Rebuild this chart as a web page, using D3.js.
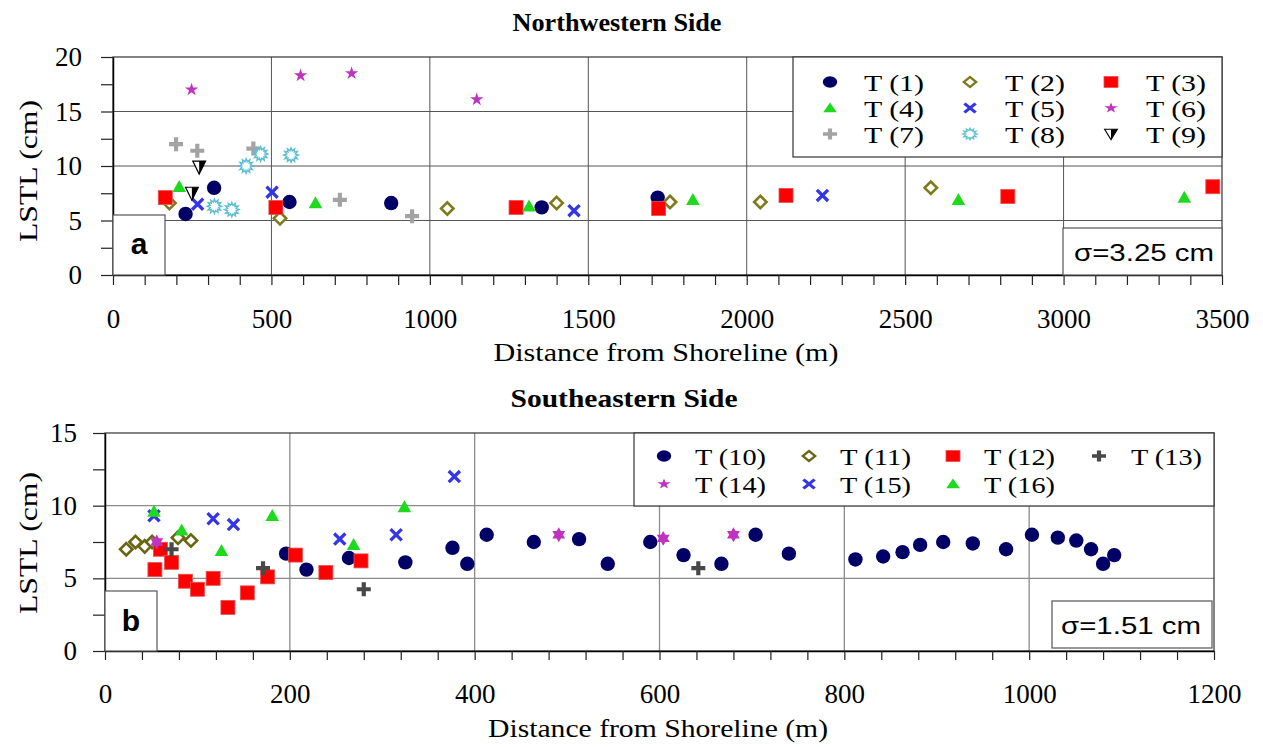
<!DOCTYPE html>
<html>
<head>
<meta charset="utf-8">
<script src="https://cdn.jsdelivr.net/npm/d3@7"></script>
<style>
  body { margin: 0; background: #fff; }
  svg { display: block; }
</style>
</head>
<body>
<svg id="chart" width="1263" height="747"></svg>
<script>
// ---------- Northwestern side: [distance from shoreline (m), LSTL (cm)] ----------
const t1 = [[229,5.6],[319,8.0],[557,6.7],[878,6.6],[1353,6.2],[1719,7.1]];
const t2 = [[178,6.6],[527,5.2],[1055,6.1],[1400,6.6],[1758,6.7],[2043,6.7],[2581,8.0]];
const t3 = [[165,7.1],[514,6.2],[1272,6.2],[1722,6.1],[2124,7.3],[2824,7.2],[3471,8.1]];
const t4 = [[209,8.1],[639,6.6],[1313,6.3],[1830,6.9],[2668,6.9],[3381,7.1]];
const t5 = [[267,6.5],[502,7.6],[1455,5.9],[2239,7.3]];
const t6 = [[248,17.0],[592,18.3],[753,18.5],[1148,16.1]];
const t7 = [[199,12.0],[266,11.4],[443,11.6],[716,6.9],[944,5.4]];
const t8 = [[320,6.3],[375,6.0],[420,10.0],[466,11.1],[562,11.0]];
const t9 = [[249,7.5],[272,9.9]];

// ---------- Southeastern side ----------
const t10 = [[196,6.7],[218,5.6],[264,6.4],[325,6.1],[376,7.1],[392,6.0],[413,8.0],[464,7.5],
             [513,7.7],[544,6.0],[590,7.5],[626,6.6],[667,6.0],[704,8.0],[740,6.7],[812,6.3],
             [842,6.5],[863,6.8],[882,7.3],[907,7.5],[939,7.4],[975,7.0],[1003,8.0],[1031,7.8],
             [1051,7.6],[1067,7.0],[1080,6.0],[1092,6.6]];
const t11 = [[23,7.0],[33,7.5],[43,7.2],[51,7.5],[79,7.8],[93,7.6]];
const t12 = [[54,5.6],[60,7.0],[72,6.1],[87,4.8],[100,4.25],[117,5.0],[133,3.0],[154,4.0],
             [176,5.1],[206,6.6],[239,5.4],[277,6.2]];
const t13 = [[72,7.0],[171,5.7],[280,4.25],[642,5.7]];
const t14 = [[56,7.5],[491,8.0],[604,7.75],[680,8.0]];
const t15 = [[53,9.3],[117,9.1],[139,8.7],[254,7.7],[315,8.0],[378,12.0]];
const t16 = [[53,9.6],[83,8.3],[126,6.9],[181,9.3],[269,7.3],[324,9.9]];

// ---------- Axis ticks ----------
const nwXTickLabels = [0,500,1000,1500,2000,2500,3000,3500];
const nwYTickLabels = [0,5,10,15,20];
const seXTickLabels = [0,200,400,600,800,1000,1200];
const seYTickLabels = [0,5,10,15];

const nwSigma = "σ=3.25 cm";
const seSigma = "σ=1.51 cm";

// ---------- Series styling ----------
const nwSeries = [
  { name: "T (1)", data: t1, mark: "circle",   color: "#000066" },
  { name: "T (2)", data: t2, mark: "diamond",  color: "#7d7a1c" },
  { name: "T (3)", data: t3, mark: "square",   color: "#ff0000" },
  { name: "T (4)", data: t4, mark: "triangle", color: "#1fd91f" },
  { name: "T (5)", data: t5, mark: "x",        color: "#3535e8" },
  { name: "T (6)", data: t6, mark: "star5",    color: "#c033c0" },
  { name: "T (7)", data: t7, mark: "plus",     color: "#a3a3a3" },
  { name: "T (8)", data: t8, mark: "sun",      color: "#5cbfd0" },
  { name: "T (9)", data: t9, mark: "halftri",  color: "#000000" }
];
const seSeries = [
  { name: "T (10)", data: t10, mark: "circle",   color: "#000066" },
  { name: "T (11)", data: t11, mark: "diamond",  color: "#6a6512" },
  { name: "T (12)", data: t12, mark: "square",   color: "#ff0000" },
  { name: "T (13)", data: t13, mark: "plus",     color: "#484848" },
  { name: "T (14)", data: t14, mark: "star6",    color: "#c033c0", legendMark: "star5" },
  { name: "T (15)", data: t15, mark: "x",        color: "#3535e8" },
  { name: "T (16)", data: t16, mark: "triangle", color: "#1fd91f" }
];

const SERIF = "'Liberation Serif', 'Times New Roman', Times, serif";
const SANS = "'Liberation Sans', Arial, sans-serif";

const svg = d3.select("#chart");

// ---------- Marker drawing ----------
function drawMarker(g, mark, color, x, y, sx = 1, sy = 1) {
  const m = g.append("g").attr("transform", `translate(${x},${y}) scale(${sx},${sy})`);
  switch (mark) {
    case "circle":
      m.append("circle").attr("r", 7.2).attr("fill", color);
      break;
    case "diamond":
      m.append("path").attr("d", "M0,-6.2L6.2,0L0,6.2L-6.2,0Z")
        .attr("fill", "#fff").attr("stroke", color).attr("stroke-width", 2.6);
      break;
    case "square":
      m.append("rect").attr("x", -7).attr("y", -7).attr("width", 14).attr("height", 14)
        .attr("fill", color).attr("stroke", "#e85050").attr("stroke-width", 0.8);
      break;
    case "triangle":
      m.append("path").attr("d", "M0,-6.8L6.8,5.2L-6.8,5.2Z").attr("fill", color);
      break;
    case "x":
      m.append("path").attr("d", "M-5.6,-5.6L5.6,5.6M-5.6,5.6L5.6,-5.6")
        .attr("stroke", color).attr("stroke-width", 3.3).attr("fill", "none");
      break;
    case "star5":
      m.append("path").attr("d", d3.symbol(d3.symbolStar, 7 * 7 / 0.8908130915)())
        .attr("fill", color);
      break;
    case "star6":
      // two triangles wound the same way so the overlap stays filled
      m.append("path").attr("d", "M0,-7.4L6.4,3.7L-6.4,3.7Z M0,7.4L-6.4,-3.7L6.4,-3.7Z")
        .attr("fill", color).attr("fill-rule", "nonzero");
      break;
    case "plus":
      m.append("path").attr("d", "M-7,0H7M0,-7V7")
        .attr("stroke", color).attr("stroke-width", 4.2).attr("fill", "none");
      break;
    case "sun": {
      const pts = d3.range(24).map(i => {
        const a = i * Math.PI / 12 - Math.PI / 2;
        const r = i % 2 === 0 ? 7.2 : 4.4;
        return [r * Math.cos(a), r * Math.sin(a)];
      });
      m.append("path").attr("d", "M" + pts.join("L") + "Z")
        .attr("fill", "#fff").attr("stroke", color).attr("stroke-width", 1.4);
      break;
    }
    case "halftri":
      m.append("path").attr("d", "M-6.4,-6L6.4,-6L0,7Z")
        .attr("fill", "#fff").attr("stroke", color).attr("stroke-width", 1.2);
      m.append("path").attr("d", "M0,-6L6.4,-6L0,7Z").attr("fill", color);
      break;
  }
}

// ---------- Text helper (glyphs fitted to the given length) ----------
function label(g, str, x, y, o) {
  const t = g.append("text")
    .attr("x", x).attr("y", y)
    .attr("font-family", o.family || SERIF)
    .attr("font-size", o.size)
    .attr("font-weight", o.weight || "normal")
    .attr("text-anchor", o.anchor || "middle")
    .attr("fill", "#000")
    .text(str);
  if (o.len) t.attr("textLength", o.len).attr("lengthAdjust", "spacingAndGlyphs");
  if (o.rotate) t.attr("transform", `rotate(${o.rotate},${x},${y})`);
  return t;
}

// ---------- One panel ----------
function panel(cfg) {
  const g = svg.append("g");
  const x = d3.scaleLinear().domain(cfg.xDomain).range([cfg.left, cfg.right]);
  const y = d3.scaleLinear().domain(cfg.yDomain).range([cfg.bottom, cfg.top]);

  // grid
  const xMajor = cfg.xLabels.filter(v => v > cfg.xDomain[0] && v < cfg.xDomain[1]);
  const yMajor = cfg.yLabels.filter(v => v > cfg.yDomain[0] && v < cfg.yDomain[1]);
  g.selectAll(".gx").data(xMajor).join("line")
    .attr("x1", d => x(d)).attr("x2", d => x(d))
    .attr("y1", cfg.top).attr("y2", cfg.bottom)
    .attr("stroke", cfg.gridColor).attr("stroke-width", cfg.gridWidth);
  g.selectAll(".gy").data(yMajor).join("line")
    .attr("x1", cfg.left).attr("x2", cfg.right)
    .attr("y1", d => y(d)).attr("y2", d => y(d))
    .attr("stroke", cfg.gridColor).attr("stroke-width", cfg.gridWidth);

  // frame
  g.append("rect")
    .attr("x", cfg.left).attr("y", cfg.top)
    .attr("width", cfg.right - cfg.left).attr("height", cfg.bottom - cfg.top)
    .attr("fill", "none").attr("stroke", "#333").attr("stroke-width", 1.2);

  // axes
  const xTicks = d3.range(cfg.xDomain[0], cfg.xDomain[1] + 0.001, cfg.xMinor);
  const yTicks = d3.range(cfg.yDomain[0], cfg.yDomain[1] + 0.001, cfg.yMinor);
  const xAxis = d3.axisBottom(x).tickValues(xTicks)
    .tickFormat(d => cfg.xLabels.includes(d) ? d : "")
    .tickSize(cfg.xTickSize).tickSizeOuter(0).tickPadding(24);
  const yAxis = d3.axisLeft(y).tickValues(yTicks)
    .tickFormat(d => cfg.yLabels.includes(d) ? d : "")
    .tickSize(12).tickSizeOuter(0).tickPadding(cfg.yPad);

  const gx = g.append("g").attr("transform", `translate(0,${cfg.bottom})`).call(xAxis);
  const gy = g.append("g").attr("transform", `translate(${cfg.left},0)`).call(yAxis);
  [gx, gy].forEach(a => {
    a.attr("font-family", SERIF).attr("font-size", 27);
    a.select(".domain").attr("stroke", "#000").attr("stroke-width", 1.5);
    a.selectAll(".tick line").attr("stroke", "#222").attr("stroke-width", 1.2);
    a.selectAll("text").attr("font-family", SERIF).attr("font-size", 27).attr("fill", "#000");
  });

  // corner boxes
  const lb = cfg.letterBox;
  g.append("rect").attr("x", lb[0]).attr("y", lb[1]).attr("width", lb[2]).attr("height", lb[3])
    .attr("fill", "#fff").attr("stroke", "#555").attr("stroke-width", 1.2);
  label(g, cfg.letter, lb[0] + lb[2] / 2, cfg.letterBase, { size: 30, weight: "bold", family: SANS });

  const sb = cfg.sigmaBox;
  g.append("rect").attr("x", sb[0]).attr("y", sb[1]).attr("width", sb[2]).attr("height", sb[3])
    .attr("fill", "#fff").attr("stroke", "#555").attr("stroke-width", 1.2);
  label(g, cfg.sigma, cfg.sigmaX, cfg.sigmaBase, { size: 24, family: SANS, len: 140 });

  // legend
  const L = cfg.legend;
  g.append("rect").attr("x", L.box[0]).attr("y", L.box[1]).attr("width", L.box[2]).attr("height", L.box[3])
    .attr("fill", "#fff").attr("stroke", "#333").attr("stroke-width", 1.2);
  cfg.series.forEach((s, i) => {
    const col = i % L.cols, row = Math.floor(i / L.cols);
    const mx = L.markX[col], my = L.rowY[row];
    drawMarker(g, s.legendMark || s.mark, s.color, mx, my, 1.0, 0.8);
    label(g, s.name, L.textX[col], my + 9, { size: 23, anchor: "start", len: L.textLen });
  });

  // points
  cfg.series.forEach(s => {
    const ps = g.append("g");
    s.data.forEach(d => drawMarker(ps, s.mark, s.color, x(d[0]), y(d[1])));
  });

  // titles
  label(g, cfg.title, cfg.titleX, cfg.titleBase, { size: 25, weight: "bold", len: cfg.titleLen });
  label(g, "Distance from Shoreline (m)", cfg.xTitleX, cfg.xTitleBase, { size: 26, len: cfg.xTitleLen });
  label(g, "LSTL (cm)", 37, cfg.yTitleY, { size: 26, len: 142, rotate: -90 });
}

// ---------- Northwestern panel ----------
panel({
  left: 113, right: 1222, top: 57, bottom: 275,
  xDomain: [0, 3500], yDomain: [0, 20], xMinor: 100, yMinor: 2.5,
  xLabels: nwXTickLabels, yLabels: nwYTickLabels,
  xTickSize: 10, yPad: 19,
  gridColor: "#555", gridWidth: 1,
  series: nwSeries,
  letter: "a", letterBox: [113, 215, 52, 60], letterBase: 254,
  sigma: nwSigma, sigmaBox: [1063, 228, 159, 47], sigmaX: 1144, sigmaBase: 261,
  legend: { box: [793, 57, 429, 100], cols: 3, markX: [830, 970, 1111],
            textX: [864, 1005, 1146], rowY: [82, 108, 134], textLen: 60 },
  title: "Northwestern Side", titleX: 617, titleBase: 31, titleLen: 209,
  xTitleX: 666, xTitleBase: 361, xTitleLen: 345, yTitleY: 171
});

// ---------- Southeastern panel ----------
panel({
  left: 105, right: 1214, top: 433, bottom: 651,
  xDomain: [0, 1200], yDomain: [0, 15], xMinor: 40, yMinor: 2.5,
  xLabels: seXTickLabels, yLabels: seYTickLabels,
  xTickSize: 9, yPad: 16,
  gridColor: "#8c8c8c", gridWidth: 1.3,
  series: seSeries,
  letter: "b", letterBox: [105, 591, 52, 60], letterBase: 631,
  sigma: seSigma, sigmaBox: [1052, 601, 160, 47], sigmaX: 1131, sigmaBase: 634,
  legend: { box: [634, 433, 580, 73], cols: 4, markX: [664, 809, 953, 1099],
            textX: [695, 840, 984, 1131], rowY: [456, 484], textLen: 71 },
  title: "Southeastern Side", titleX: 624, titleBase: 407, titleLen: 227,
  xTitleX: 658, xTitleBase: 737, xTitleLen: 340, yTitleY: 543
});
</script>
</body>
</html>
